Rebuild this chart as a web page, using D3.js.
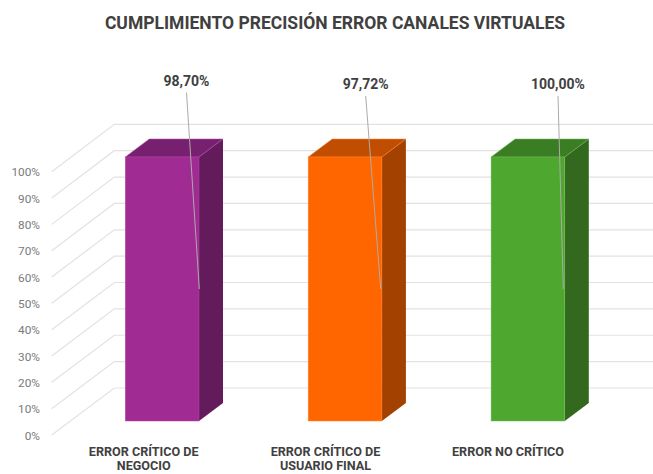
<!DOCTYPE html>
<html><head><meta charset="utf-8">
<script src="https://cdn.jsdelivr.net/npm/d3@7"></script>
<style>html,body{margin:0;padding:0;background:#fff;overflow:hidden}svg{display:block}text{font-family:Roboto,sans-serif}</style>
</head><body><div id="chart"></div>
<script>
const titleText = "CUMPLIMIENTO PRECISIÓN ERROR CANALES VIRTUALES";
const categories = [["ERROR CRÍTICO DE","NEGOCIO"],["ERROR CRÍTICO DE","USUARIO FINAL"],["ERROR NO CRÍTICO"]];
const barHeights = [100,100,100];
const valueLabels = ["98,70%","97,72%","100,00%"];
const tickValues = [0,10,20,30,40,50,60,70,80,90,100];
const frontColors = ["#A02B93","#FF6600","#4EA72E"];
const sideColors = ["#641B5C","#A34100","#33691E"];
const topColors = ["#782070","#C04D00","#3B7D23"];
const edgeColors = ["#B04AA5","#FF8433","#71B858"];
const labelX = [186.5,365.7,558];
const labelY = [81,84.5,84.5];
const leaderTop = [92.5,96,96];
const leaderEndX = [199.3,380.7,563.3];

const W=653,H=474;
const svg=d3.select("#chart").append("svg").attr("width",W).attr("height",H);
const yFront=d3.scaleLinear().domain([0,100]).range([435,171.7]);
const yBack=d3.scaleLinear().domain([0,100]).range([388,124.3]);
const yBar=d3.scaleLinear().domain([0,100]).range([421,157]);
const x=d3.scaleBand().domain(d3.range(categories.length)).range([125.3,564.8]).paddingInner(0.597).paddingOuter(0);
const xFront=51.7,xBack=114.3,depthX=24,depthY=18;
const gridColor="#E2E2E2";

const grid=svg.append("g").attr("fill","none").attr("stroke",gridColor);
grid.selectAll("path").data(tickValues).join("path")
  .attr("stroke-width",1.2)
  .attr("d",t=>`M${xFront},${yFront(t)}L${xBack},${yBack(t)}L${W},${yBack(t)}`);

const axis=d3.axisLeft(yFront).tickValues(tickValues).tickFormat(t=>t+"%").tickSize(0);
const ag=svg.append("g").attr("transform","translate(46,0)").call(axis);
ag.select(".domain").remove();
ag.selectAll("text").attr("x",-6).attr("dy","0.35em").attr("fill","#7A7A7A").style("font-size","11.8px").style("font-family","Roboto,sans-serif");

const bars=svg.selectAll("g.bar").data(barHeights).join("g").attr("class","bar");
bars.append("path").attr("fill",(d,i)=>sideColors[i])
  .attr("d",(d,i)=>{const r=x(i)+x.bandwidth(),t=yBar(d),b=yBar(0);return `M${r},${t}L${r+depthX},${t-depthY}L${r+depthX},${b-depthY}L${r},${b}Z`;});
bars.append("path").attr("fill",(d,i)=>topColors[i]).attr("stroke",(d,i)=>edgeColors[i]).attr("stroke-width",0.5)
  .attr("d",(d,i)=>{const l=x(i),r=l+x.bandwidth(),t=yBar(d);return `M${l},${t}L${l+depthX},${t-depthY}L${r+depthX},${t-depthY}L${r},${t}Z`;});
bars.append("rect").attr("fill",(d,i)=>frontColors[i]).attr("stroke",(d,i)=>edgeColors[i]).attr("stroke-width",0.5)
  .attr("x",(d,i)=>x(i)).attr("width",x.bandwidth()).attr("y",d=>yBar(d)).attr("height",d=>yBar(0)-yBar(d));

svg.append("g").selectAll("line").data(valueLabels).join("line")
  .attr("x1",(d,i)=>labelX[i]).attr("y1",(d,i)=>leaderTop[i])
  .attr("x2",(d,i)=>leaderEndX[i]).attr("y2",yBar(50)).attr("stroke","#ABABAB").attr("stroke-width",1);

svg.append("g").selectAll("text").data(valueLabels).join("text")
  .attr("x",(d,i)=>labelX[i]).attr("y",(d,i)=>labelY[i]).attr("dy","0.35em")
  .attr("text-anchor","middle").attr("fill","#404040").style("font-size","14px").style("font-weight",700).text(d=>d);

svg.append("text").attr("x",335).attr("y",23).attr("dy","0.35em").attr("text-anchor","middle")
  .attr("fill","#404040").style("font-size","17.5px").style("font-weight",700).text(titleText);

const catCx=[143.7,325.5,508];
categories.forEach((lines,i)=>{
  lines.forEach((ln,j)=>{
    svg.append("text").attr("x",catCx[i]).attr("y",451.5+j*14.5).attr("dy","0.35em").attr("text-anchor","middle")
      .attr("fill","#404040").style("font-size","12.6px").style("font-weight",700).text(ln);
  });
});
</script></body></html>
